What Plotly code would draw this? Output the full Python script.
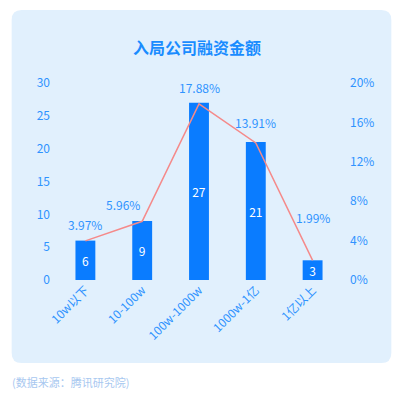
import plotly.graph_objects as go

categories = ["10w以下", "10-100w", "100w-1000w", "1000w-1亿", "1亿以上"]
counts = [6, 9, 27, 21, 3]
shares = [3.97, 5.96, 17.88, 13.91, 1.99]
label_dy = [16, 17, 16, 20, 43]
label_dx = [0, -19, 0, 0, 0]
left_ticks = [0, 5, 10, 15, 20, 25, 30]
right_ticks = [0, 4, 8, 12, 16, 20]

W, H = 403, 395
FONT = "Noto Sans CJK SC, Noto Sans, sans-serif"
BLUE_TXT = "#2f93ff"

l, r, t, b = 56.5, 61.5, 83, 115
PW, PH = W - l - r, H - t - b


def px(x):
    return (x - l) / PW


def py(y):
    return (H - b - y) / PH


fig = go.Figure()
fig.add_trace(go.Bar(
    x=categories, y=counts, marker=dict(color="#0a7cff", line=dict(width=0)),
    text=[str(v) for v in counts], textposition="inside", insidetextanchor="middle",
    textfont=dict(color="white", size=12, family=FONT), textangle=0,
    yaxis="y", hoverinfo="skip",
))
fig.add_trace(go.Scatter(
    x=categories, y=shares, mode="lines", yaxis="y2",
    line=dict(color="#f58a8a", width=1.5), hoverinfo="skip", cliponaxis=False,
))
for c, v, dy, dx in zip(categories, shares, label_dy, label_dx):
    fig.add_annotation(x=c, y=v, xref="x", yref="y2", text=f"{v:.2f}%", showarrow=False,
                       yshift=dy, xshift=dx, xanchor="center", yanchor="middle",
                       font=dict(color=BLUE_TXT, size=12, family=FONT))

fig.update_layout(
    width=W, height=H,
    margin=dict(l=l, r=r, t=t, b=b, pad=0),
    paper_bgcolor="white", plot_bgcolor="rgba(0,0,0,0)",
    showlegend=False, bargap=0.65,
    uniformtext=dict(minsize=12, mode="show"),
    font=dict(family=FONT, color=BLUE_TXT, size=12),
    xaxis=dict(showgrid=False, showline=False, zeroline=False, tickangle=-45,
               tickfont=dict(size=12, color=BLUE_TXT), ticks=""),
    yaxis=dict(range=[0, 30], tickvals=left_ticks, showgrid=False, zeroline=False,
               showline=False, tickfont=dict(size=12, color=BLUE_TXT), ticklabelstandoff=6),
    yaxis2=dict(range=[0, 20], tickvals=right_ticks, ticktext=[f"{v}%" for v in right_ticks],
                overlaying="y", side="right", showgrid=False, zeroline=False, showline=False,
                tickfont=dict(size=12, color=BLUE_TXT), ticklabelstandoff=8),
)

# card background (pixel coords converted to plot-area paper coords)
x0, x1 = px(11), px(392)
y0, y1 = py(363), py(10)
rx, ry = 10 / PW, 10 / PH
path = (f"M {x0+rx},{y1} L {x1-rx},{y1} Q {x1},{y1} {x1},{y1-ry} "
        f"L {x1},{y0+ry} Q {x1},{y0} {x1-rx},{y0} L {x0+rx},{y0} Q {x0},{y0} {x0},{y0+ry} "
        f"L {x0},{y1-ry} Q {x0},{y1} {x0+rx},{y1} Z")
fig.add_shape(type="path", path=path, xref="paper", yref="paper",
              fillcolor="#e1f0fd", line=dict(width=0), layer="below")

fig.add_annotation(text="<b>入局公司融资金额</b>", x=px(197), y=py(47),
                   xref="paper", yref="paper", showarrow=False,
                   font=dict(size=16, color="#1a8cff", family=FONT), xanchor="center", yanchor="middle")
fig.add_annotation(text="(数据来源：腾讯研究院)", x=px(9), y=py(382),
                   xref="paper", yref="paper", showarrow=False,
                   font=dict(size=11, color="#a8c8f0", family=FONT), xanchor="left", yanchor="middle")

fig.write_html("out.html", config={"displayModeBar": False},
               post_script="document.body.style.margin='0';")
